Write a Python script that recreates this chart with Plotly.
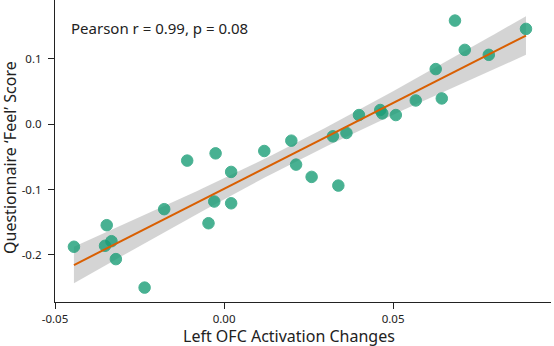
import numpy as np
import plotly.graph_objects as go

ofc_change = [-0.0444, -0.0347, -0.0352, -0.0333, -0.0320, -0.0235, -0.0177, -0.0109,
              -0.0046, -0.0029, -0.0025, 0.0021, 0.0021, 0.0119, 0.0199, 0.0213,
              0.0259, 0.0338, 0.0322, 0.0362, 0.0399, 0.0462, 0.0468, 0.0508,
              0.0567, 0.0626, 0.0644, 0.0683, 0.0712, 0.0783, 0.0893]
feel_score = [-0.1875, -0.1545, -0.186, -0.179, -0.2064, -0.250, -0.130, -0.0557,
              -0.1515, -0.1183, -0.0446, -0.073, -0.121, -0.041, -0.0252, -0.0618,
              -0.0806, -0.0939, -0.0186, -0.0134, 0.014, 0.0217, 0.0165, 0.014,
              0.0363, 0.0843, 0.0394, 0.1585, 0.1137, 0.1061, 0.1458]
x_ticks = [-0.05, 0.0, 0.05]
x_tick_text = ["-0.05", "0.00", "0.05"]
y_ticks = [-0.2, -0.1, 0.0, 0.1]
y_tick_text = ["-0.2", "-0.1", "0.0", "0.1"]
stat_text = "Pearson r = 0.99, p = 0.08"
x_title = "Left OFC Activation Changes"
y_title = "Questionnaire ‘Feel’ Score"

x = np.array(ofc_change)
y = np.array(feel_score)
n = len(x)
slope, intercept = np.polyfit(x, y, 1)
xs = np.linspace(x.min(), x.max(), 100)
ys = intercept + slope * xs
resid = y - (intercept + slope * x)
s = np.sqrt(np.sum(resid ** 2) / (n - 2))
sxx = np.sum((x - x.mean()) ** 2)
se = s * np.sqrt(1 / n + (xs - x.mean()) ** 2 / sxx)
tcrit = 2.045
lo = ys - tcrit * se
hi = ys + tcrit * se

FONT = "Noto Sans"
TXT = "#222222"

fig = go.Figure()
fig.add_trace(go.Scatter(x=np.concatenate([xs, xs[::-1]]), y=np.concatenate([hi, lo[::-1]]),
                         fill="toself", fillcolor="rgba(170,170,170,0.5)", line=dict(width=0),
                         mode="lines", hoverinfo="skip", showlegend=False))
fig.add_trace(go.Scatter(x=x, y=y, mode="markers",
                         marker=dict(size=11.5, color="#1b9e77", opacity=0.8,
                                     line=dict(width=1, color="#1b9e77")),
                         showlegend=False))
fig.add_trace(go.Scatter(x=xs, y=ys, mode="lines", line=dict(color="#d95f02", width=2),
                         showlegend=False))

fig.update_layout(
    width=554, height=346,
    margin=dict(l=55, r=3, t=0, b=44),
    plot_bgcolor="white", paper_bgcolor="white",
    font=dict(family=FONT, color=TXT),
    xaxis=dict(range=[-0.05, 0.0967], tickvals=x_ticks, ticktext=x_tick_text,
               showgrid=False, zeroline=False, showline=True, linecolor=TXT, linewidth=1.2,
               ticks="outside", ticklen=6, tickcolor=TXT, tickfont=dict(size=11.5)),
    yaxis=dict(range=[-0.272, 0.19], tickvals=y_ticks, ticktext=y_tick_text,
               showgrid=False, zeroline=False, showline=True, linecolor=TXT, linewidth=1.2,
               ticks="outside", ticklen=6, tickcolor=TXT, tickfont=dict(size=11.5),
               ticklabelstandoff=4),
    annotations=[
        dict(text=stat_text, xref="paper", yref="paper", x=0.028, y=0.907,
             xanchor="left", yanchor="middle", showarrow=False,
             font=dict(size=15, color=TXT)),
        dict(text=x_title, xref="paper", yref="paper", x=(289 - 55) / 496, y=-0.1126,
             xanchor="center", yanchor="middle", showarrow=False,
             font=dict(size=16, color=TXT)),
        dict(text=y_title, xref="paper", yref="paper", x=-0.0907, y=0.477,
             xanchor="center", yanchor="middle", showarrow=False, textangle=-90,
             font=dict(size=16, color=TXT)),
    ],
)

fig.write_html("out.html")
